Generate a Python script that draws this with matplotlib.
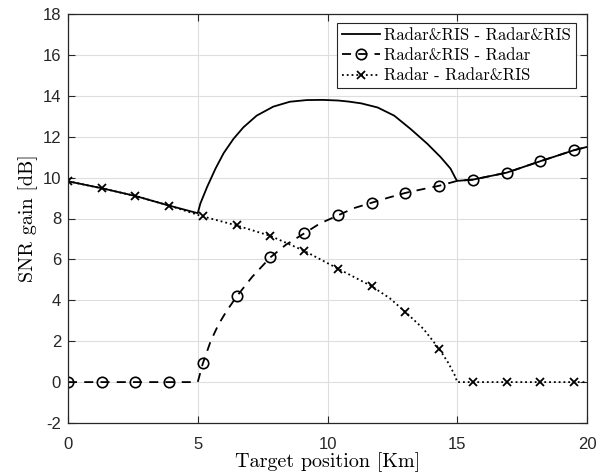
import numpy as np
import matplotlib as mpl
mpl.use('Agg')
import matplotlib.pyplot as plt

plt.rcParams['axes.unicode_minus'] = False

# SNR gain versus target position for the three radar/RIS configurations
marker_km = [0, 1.3, 2.6, 3.9, 5.2, 6.5, 7.8, 9.1, 10.4, 11.7, 13.0, 14.3,
             15.6, 16.9, 18.2, 19.5]

ris_ris_km = [0, 1.3, 2.6, 3.9, 5.0, 5.1, 5.36, 5.68, 6.0, 6.38, 6.76, 7.27,
              7.91, 8.55, 9.19, 9.8, 10.4, 10.8, 11.3, 11.93, 12.57, 13.2,
              13.85, 14.36, 14.74, 14.94, 15.0, 15.6, 16.9, 18.2, 19.5, 20]
ris_ris_db = [9.82, 9.48, 9.1, 8.63, 8.26, 8.73, 9.54, 10.43, 11.2, 11.9,
              12.46, 13.03, 13.47, 13.71, 13.79, 13.8, 13.77, 13.72, 13.63,
              13.43, 13.03, 12.38, 11.65, 11.0, 10.44, 9.95, 9.84, 9.9, 10.24,
              10.8, 11.34, 11.5]

ris_radar_km = [0, 1.3, 2.6, 3.9, 5.0, 5.2, 5.5, 5.8, 6.1, 6.5, 7.1, 7.8, 8.4,
                9.1, 9.7, 10.4, 11.0, 11.7, 12.35, 13.0, 13.65, 14.3, 15.0,
                15.6, 16.9, 18.2, 19.5, 20]
ris_radar_db = [0, 0, 0, 0, 0, 0.93, 2.01, 2.82, 3.45, 4.19, 5.15, 6.1, 6.72,
                7.27, 7.75, 8.15, 8.5, 8.77, 9.02, 9.25, 9.43, 9.6, 9.84, 9.9,
                10.24, 10.8, 11.34, 11.5]

radar_ris_km = [0, 1.3, 2.6, 3.9, 5.2, 6.5, 7.8, 9.1, 10.4, 11.7, 12.4, 13.0,
                13.7, 14.3, 14.65, 14.9, 15.0, 15.6, 16.9, 18.2, 19.5, 20]
radar_ris_db = [9.82, 9.48, 9.1, 8.63, 8.1, 7.66, 7.15, 6.42, 5.55, 4.69, 4.1,
                3.43, 2.6, 1.63, 0.95, 0.35, 0.0, 0, 0, 0, 0, 0]

labels = ['Radar&RIS - Radar&RIS', 'Radar&RIS - Radar', 'Radar - Radar&RIS']


def marks(xs):
    xs = np.asarray(xs)
    return [i for i, v in enumerate(xs) if np.any(np.isclose(v, marker_km))]


axcol = '#262626'
serif = 'cmr10'

fig = plt.figure(figsize=(6.03, 4.72), dpi=100)
ax = fig.add_axes([68/603, 1-423/472, (587-68)/603, (423-14)/472])

ax.plot(ris_ris_km, ris_ris_db, '-', color='k', lw=1.3, label=labels[0])
ax.plot(ris_radar_km, ris_radar_db, '--', color='k', lw=1.3, marker='o',
        ms=7.5, mfc='none', mew=1.2, markevery=marks(ris_radar_km),
        dashes=(5, 4), label=labels[1])
ax.plot(radar_ris_km, radar_ris_db, ':', color='k', lw=1.3, marker='x',
        ms=5.5, mew=1.3, markevery=marks(radar_ris_km), label=labels[2])

ax.set_xlim(0, 20)
ax.set_ylim(-2, 18)
ax.set_xticks([0, 5, 10, 15, 20])
ax.set_yticks(np.arange(-2, 19, 2))
ax.grid(True, color='#dedede', lw=0.8)
ax.set_axisbelow(True)

for s in ax.spines.values():
    s.set_color(axcol)
    s.set_linewidth(0.9)
ax.tick_params(direction='in', top=True, right=True, length=5, width=0.8,
               color=axcol, labelcolor=axcol, labelsize=12)
ax.tick_params(axis='x', pad=10)
ax.tick_params(axis='y', pad=5)
for t in ax.get_xticklabels() + ax.get_yticklabels():
    t.set_family('Liberation Sans')

ax.set_xlabel('Target position [Km]', family=serif, fontsize=14.5,
              labelpad=0)
ax.set_ylabel('SNR gain [dB]', family=serif, fontsize=14.5, labelpad=3)

leg = ax.legend(loc='upper right', bbox_to_anchor=(1 - 11/519, 1 - 8.5/409),
                borderaxespad=0, prop={'family': serif, 'size': 12},
                fancybox=False, framealpha=1, edgecolor=axcol,
                handlelength=2.3, handletextpad=0.25, labelspacing=0.3,
                borderpad=0.3)
leg.get_frame().set_linewidth(0.8)

fig.savefig('out.png', dpi=100)
